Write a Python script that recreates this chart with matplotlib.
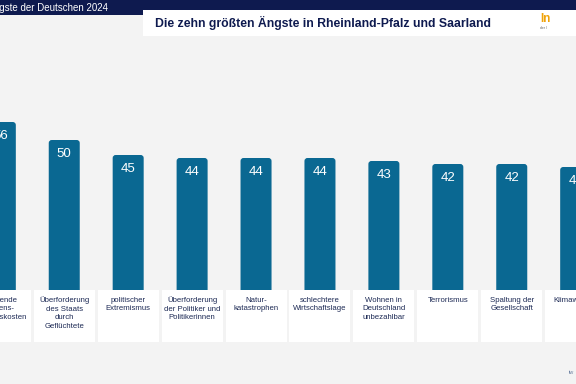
import matplotlib
matplotlib.use("Agg")
import matplotlib.pyplot as plt
from matplotlib.patches import FancyBboxPatch, Rectangle

plt.rcParams["font.family"] = ["Liberation Sans", "DejaVu Sans"]

# data
categories = [
    "steigende\nLebens-\nhaltungskosten",
    "Überforderung\ndes Staats\ndurch\nGeflüchtete",
    "politischer\nExtremismus",
    "Überforderung\nder Politiker und\nPolitikerinnen",
    "Natur-\nkatastrophen",
    "schlechtere\nWirtschaftslage",
    "Wohnen in\nDeutschland\nunbezahlbar",
    "Terrorismus",
    "Spaltung der\nGesellschaft",
    "Klimawandel",
]
values = [56, 50, 45, 44, 44, 44, 43, 42, 42, 41]

title = "Die zehn größten Ängste in Rheinland-Pfalz und Saarland"
header = "Die größten Ängste der Deutschen 2024"

bar_color = "#0a6892"
navy = "#0e1a4f"
bg = "#f3f3f3"

W, H = 576, 384
fig = plt.figure(figsize=(W / 100, H / 100), dpi=100, facecolor=bg)

# axes: bottom of label boxes at y=342px, top at y=40px
px_unit = 3.0          # pixels per percentage point
y_bot_px, y_top_px = 342, 40
zero_px = 290
ax = fig.add_axes([0, (H - y_bot_px) / H, 1, (y_bot_px - y_top_px) / H])
ax.set_facecolor(bg)
ax.set_xlim(-0.005, 9.005)
ax.set_ylim(-(y_bot_px - zero_px) / px_unit, (zero_px - y_top_px) / px_unit)
ax.axis("off")

bar_w = 0.485
xunit_px = W / 9.01
rs = 3.0 / xunit_px
for i, v in enumerate(values):
    p = FancyBboxPatch((i - bar_w / 2, -4), bar_w, v + 4,
                       boxstyle=f"round,pad=0,rounding_size={rs}",
                       mutation_aspect=xunit_px / px_unit,
                       facecolor=bar_color, edgecolor="none", zorder=2)
    ax.add_patch(p)
    ax.text(i, v - 4.8, str(v), ha="center", va="center", color="white",
            fontsize=9.5, zorder=4)

box_w = 61 / xunit_px
box_h = (y_bot_px - zero_px) / px_unit
for i, c in enumerate(categories):
    ax.add_patch(Rectangle((i - box_w / 2, -box_h), box_w, box_h,
                           facecolor="white", edgecolor="none", zorder=3,
                           clip_on=False))
    ax.text(i, -2.2, c, ha="center", va="top", color="#1d2a55",
            fontsize=5.6, linespacing=1.3, zorder=4)

# header band
fig.patches.append(Rectangle((0, (H - 15) / H), 1, 15 / H,
                             transform=fig.transFigure, facecolor=navy,
                             edgecolor="none", zorder=0))
fig.text(108 / W, (H - 7.5) / H, header, ha="right", va="center",
         color="white", fontsize=7)
# title box
fig.patches.append(Rectangle((143 / W, (H - 36) / H), (W - 143) / W, 26 / H,
                             transform=fig.transFigure, facecolor="white",
                             edgecolor="none", zorder=1))
fig.text(155 / W, (H - 22.5) / H, title, ha="left", va="center",
         color=navy, fontsize=8.8, fontweight="bold")
fig.text(540 / W, (H - 19) / H, "In", ha="left", va="center",
         color="#f0a30a", fontsize=8.5, fontweight="bold")
fig.text(540 / W, (H - 28) / H, "der I", ha="left", va="center",
         color="#666666", fontsize=2.5)
fig.text(569 / W, (H - 373) / H, "iw", ha="left", va="center",
         color="#6a7fa0", fontsize=4)

fig.savefig("out.png", dpi=100, facecolor=bg)
